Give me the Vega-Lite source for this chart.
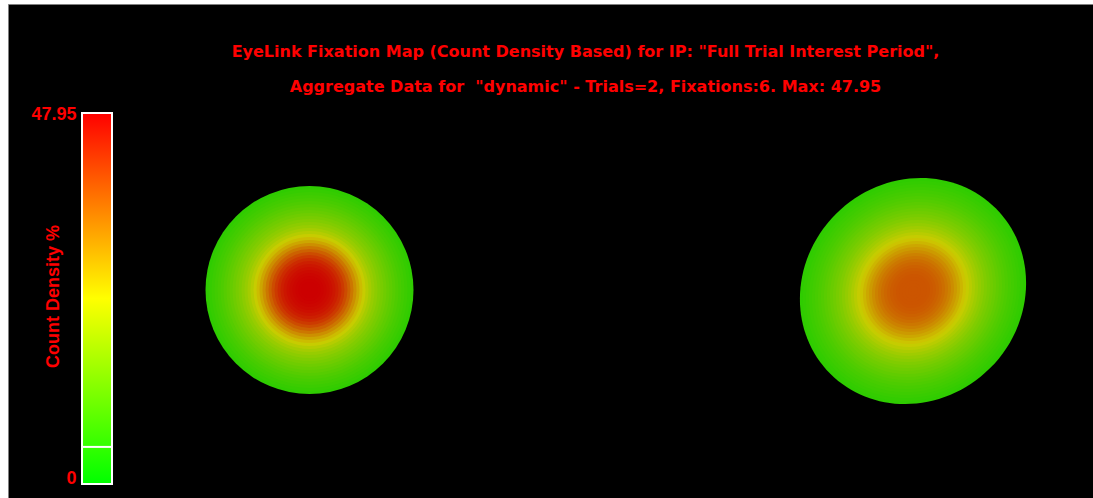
{
  "$schema": "https://vega.github.io/schema/vega-lite/v6.json",
  "width": 1093,
  "height": 498,
  "autosize": {"type": "fit", "contains": "padding"},
  "padding": {"left": 8, "top": 4, "right": 0, "bottom": 0},
  "background": "white",
  "config": {"view": {"fill": "black", "stroke": "#7f7f7f", "strokeWidth": 1}},
  "title": {
    "text": ["EyeLink Fixation Map (Count Density Based) for IP: \"Full Trial Interest Period\",", "Aggregate Data for \u00a0\"dynamic\" - Trials=2, Fixations:6. Max: 47.95"],
    "color": "#ff0000",
    "font": "DejaVu Sans",
    "fontWeight": "bold",
    "fontSize": 16,
    "lineHeight": 35,
    "anchor": "middle",
    "dx": 35,
    "offset": -91
  },
  "datasets": {
    "blobs": [
      {"blob": 1, "x": 309.5, "y": 290, "r": 104, "v": 5.5},
      {"blob": 1, "x": 309.5, "y": 290, "r": 101, "v": 6.2},
      {"blob": 1, "x": 309.5, "y": 290, "r": 98, "v": 6.9},
      {"blob": 1, "x": 309.5, "y": 290, "r": 95, "v": 7.6},
      {"blob": 1, "x": 309.5, "y": 290, "r": 92, "v": 8.4},
      {"blob": 1, "x": 309.5, "y": 290, "r": 89, "v": 9.2},
      {"blob": 1, "x": 309.5, "y": 290, "r": 86, "v": 10.1},
      {"blob": 1, "x": 309.5, "y": 290, "r": 83, "v": 11.0},
      {"blob": 1, "x": 309.5, "y": 290, "r": 80, "v": 12.0},
      {"blob": 1, "x": 309.5, "y": 290, "r": 77, "v": 13.0},
      {"blob": 1, "x": 309.5, "y": 290, "r": 74, "v": 14.1},
      {"blob": 1, "x": 309.5, "y": 290, "r": 71, "v": 15.2},
      {"blob": 1, "x": 309.5, "y": 290, "r": 68, "v": 16.4},
      {"blob": 1, "x": 309.5, "y": 290, "r": 65, "v": 17.8},
      {"blob": 1, "x": 309.5, "y": 290, "r": 62, "v": 19.4},
      {"blob": 1, "x": 309.5, "y": 290, "r": 59, "v": 21.3},
      {"blob": 1, "x": 309.5, "y": 290, "r": 56, "v": 23.4},
      {"blob": 1, "x": 309.5, "y": 290, "r": 53, "v": 25.8},
      {"blob": 1, "x": 309.5, "y": 290, "r": 50, "v": 28.4},
      {"blob": 1, "x": 309.5, "y": 290, "r": 47, "v": 31.2},
      {"blob": 1, "x": 309.5, "y": 290, "r": 44, "v": 34.0},
      {"blob": 1, "x": 309.5, "y": 290, "r": 41, "v": 36.6},
      {"blob": 1, "x": 309.5, "y": 290, "r": 38, "v": 39.0},
      {"blob": 1, "x": 309.5, "y": 290, "r": 35, "v": 41.1},
      {"blob": 1, "x": 309.5, "y": 290, "r": 32, "v": 42.9},
      {"blob": 1, "x": 309.5, "y": 290, "r": 29, "v": 44.3},
      {"blob": 1, "x": 309.5, "y": 290, "r": 26, "v": 45.4},
      {"blob": 1, "x": 309.5, "y": 290, "r": 23, "v": 46.2},
      {"blob": 1, "x": 309.5, "y": 290, "r": 20, "v": 46.8},
      {"blob": 1, "x": 309.5, "y": 290, "r": 17, "v": 47.3},
      {"blob": 1, "x": 309.5, "y": 290, "r": 14, "v": 47.6},
      {"blob": 1, "x": 309.5, "y": 290, "r": 11, "v": 47.8},
      {"blob": 1, "x": 309.5, "y": 290, "r": 8, "v": 47.9},
      {"blob": 1, "x": 309.5, "y": 290, "r": 5, "v": 47.95},
      {"blob": 1, "x": 309.5, "y": 290, "r": 2, "v": 47.95},
      {"blob": 2, "x": 913, "y": 291, "r": 113, "v": 5.5},
      {"blob": 2, "x": 913, "y": 291, "r": 110, "v": 6.0},
      {"blob": 2, "x": 913, "y": 291, "r": 107, "v": 6.6},
      {"blob": 2, "x": 913, "y": 291, "r": 104, "v": 7.2},
      {"blob": 2, "x": 913, "y": 291, "r": 101, "v": 7.8},
      {"blob": 2, "x": 913, "y": 291, "r": 98, "v": 8.4},
      {"blob": 2, "x": 913, "y": 291, "r": 95, "v": 9.1},
      {"blob": 2, "x": 913, "y": 291, "r": 92, "v": 9.8},
      {"blob": 2, "x": 913, "y": 291, "r": 89, "v": 10.6},
      {"blob": 2, "x": 913, "y": 291, "r": 86, "v": 11.4},
      {"blob": 2, "x": 913, "y": 291, "r": 83, "v": 12.3},
      {"blob": 2, "x": 913, "y": 291, "r": 80, "v": 13.2},
      {"blob": 2, "x": 913, "y": 291, "r": 77, "v": 14.1},
      {"blob": 2, "x": 913, "y": 291, "r": 74, "v": 15.1},
      {"blob": 2, "x": 913, "y": 291, "r": 71, "v": 16.2},
      {"blob": 2, "x": 913, "y": 291, "r": 68, "v": 17.4},
      {"blob": 2, "x": 913, "y": 291, "r": 65, "v": 18.7},
      {"blob": 2, "x": 913, "y": 291, "r": 62, "v": 20.1},
      {"blob": 2, "x": 913, "y": 291, "r": 59, "v": 21.6},
      {"blob": 2, "x": 913, "y": 291, "r": 56, "v": 23.2},
      {"blob": 2, "x": 913, "y": 291, "r": 53, "v": 24.9},
      {"blob": 2, "x": 913, "y": 291, "r": 50, "v": 26.6},
      {"blob": 2, "x": 913, "y": 291, "r": 47, "v": 28.3},
      {"blob": 2, "x": 913, "y": 291, "r": 44, "v": 29.9},
      {"blob": 2, "x": 913, "y": 291, "r": 41, "v": 31.4},
      {"blob": 2, "x": 913, "y": 291, "r": 38, "v": 32.8},
      {"blob": 2, "x": 913, "y": 291, "r": 35, "v": 34.0},
      {"blob": 2, "x": 913, "y": 291, "r": 32, "v": 35.0},
      {"blob": 2, "x": 913, "y": 291, "r": 29, "v": 35.9},
      {"blob": 2, "x": 913, "y": 291, "r": 26, "v": 36.6},
      {"blob": 2, "x": 913, "y": 291, "r": 23, "v": 37.1},
      {"blob": 2, "x": 913, "y": 291, "r": 20, "v": 37.5},
      {"blob": 2, "x": 913, "y": 291, "r": 17, "v": 37.8},
      {"blob": 2, "x": 913, "y": 291, "r": 14, "v": 37.95},
      {"blob": 2, "x": 913, "y": 291, "r": 11, "v": 38.0},
      {"blob": 2, "x": 913, "y": 291, "r": 8, "v": 38.0},
      {"blob": 2, "x": 913, "y": 291, "r": 5, "v": 38.0},
      {"blob": 2, "x": 913, "y": 291, "r": 2, "v": 38.0}
    ],
    "scalebar": [{"min": 0, "max": 47.95, "threshold": 4.795}]
  },
  "layer": [
    {
      "data": {"name": "blobs"},
      "mark": {"type": "point", "filled": true, "opacity": 1, "strokeWidth": 0},
      "encoding": {
        "x": {"field": "x", "type": "quantitative", "scale": {"domain": [8, 1093], "nice": false, "zero": false}, "axis": null},
        "y": {"field": "y", "type": "quantitative", "scale": {"domain": [4, 498], "reverse": true, "nice": false, "zero": false}, "axis": null},
        "size": {"field": "r", "type": "quantitative", "scale": {"type": "pow", "exponent": 2, "domain": [0, 100], "range": [0, 40000]}, "legend": null},
        "color": {"field": "v", "type": "quantitative", "scale": {"domain": [0, 23.975, 47.95], "range": ["#00cc00", "#cccc00", "#cc0000"], "interpolate": "rgb"}, "legend": null},
        "shape": {"field": "blob", "type": "nominal", "scale": {"domain": [1, 2], "range": ["circle", "M0.732,-0.732A1.035,0.965,-45,1,1,-0.732,0.732A1.035,0.965,-45,1,1,0.732,-0.732Z"]}, "legend": null},
        "order": {"field": "r", "type": "quantitative", "sort": "descending"}
      }
    },
    {
      "data": {"name": "scalebar"},
      "layer": [
        {
          "mark": {
            "type": "rect",
            "color": {"gradient": "linear", "x1": 0, "y1": 1, "x2": 0, "y2": 0,
              "stops": [{"offset": 0, "color": "#00ff00"}, {"offset": 0.5, "color": "#ffff00"}, {"offset": 1, "color": "#ff0000"}]}
          },
          "encoding": {
            "x": {"datum": 82, "type": "quantitative"},
            "x2": {"datum": 112},
            "y": {
              "field": "min", "type": "quantitative",
              "scale": {"domain": [0, 47.95], "range": [480, 109], "nice": false},
              "axis": {
                "orient": "left", "offset": -70, "values": [0, 47.95], "format": ".2~f",
                "domain": false, "ticks": false, "tickSize": 0, "grid": false,
                "labelColor": "#ff0000", "labelFont": "Liberation Sans", "labelFontWeight": "bold", "labelFontSize": 18,
                "labelPadding": 2, "labelFlush": false, "labelOverlap": false, "labelBaseline": "middle",
                "labelOffset": {"condition": {"test": "datum.value < 1", "value": -6}, "value": 1},
                "title": "Count Density %", "titleColor": "#ff0000", "titleFont": "Liberation Sans", "titleFontWeight": "bold", "titleFontSize": 18,
                "titleAngle": -90, "titleX": -25, "titleY": 292, "titleAlign": "center", "titleBaseline": "middle"
              }
            },
            "y2": {"field": "max"}
          }
        },
        {
          "mark": {"type": "rect", "fill": "transparent", "stroke": "#ffffff", "strokeWidth": 2},
          "encoding": {
            "x": {"datum": 82, "type": "quantitative"},
            "x2": {"datum": 112},
            "y": {"field": "min", "type": "quantitative"},
            "y2": {"field": "max"}
          }
        },
        {
          "mark": {"type": "rule", "color": "#ffffff", "strokeWidth": 2},
          "encoding": {
            "x": {"datum": 82, "type": "quantitative"},
            "x2": {"datum": 112},
            "y": {"field": "threshold", "type": "quantitative"}
          }
        }
      ]
    }
  ],
  "resolve": {"scale": {"y": "independent"}, "axis": {"y": "independent"}}
}
